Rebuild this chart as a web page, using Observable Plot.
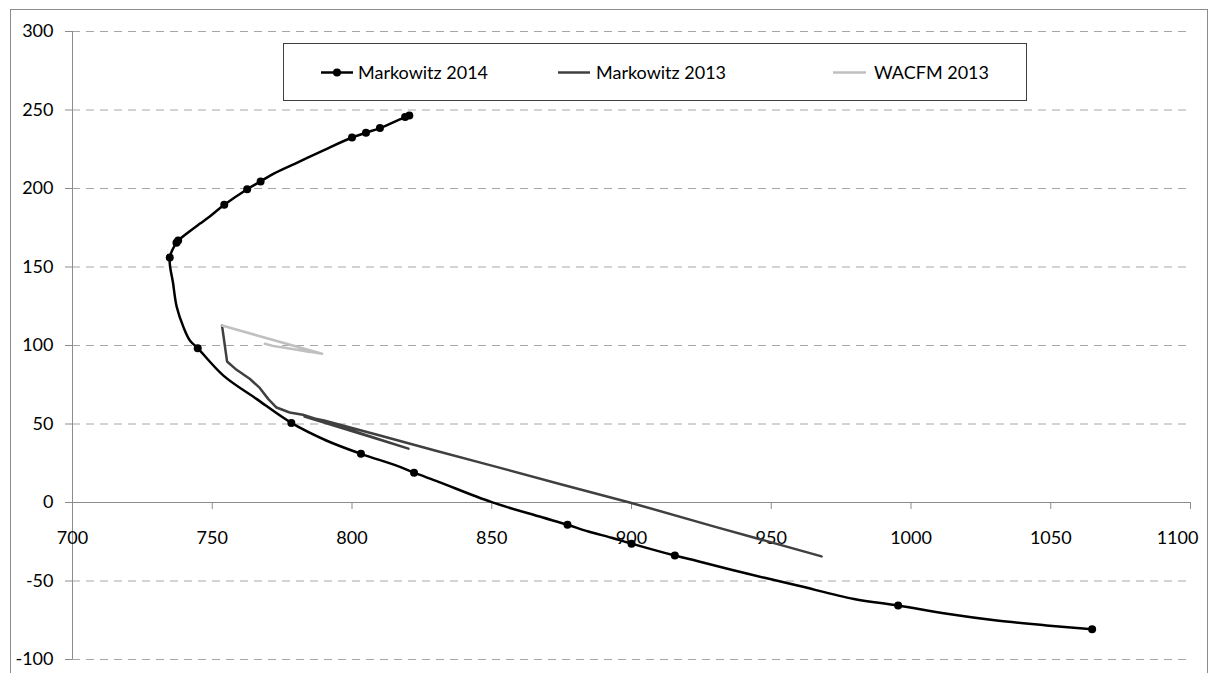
<!DOCTYPE html>
<html><head><meta charset="utf-8">
<script src="https://cdn.jsdelivr.net/npm/d3@7"></script>
<script src="https://cdn.jsdelivr.net/npm/@observablehq/plot@0.6"></script>
<style>
body{margin:0;background:#fff;}
#wrap{position:relative;width:1217px;height:673px;overflow:hidden;font-family:Lato,"Open Sans",sans-serif;}
#frame{position:absolute;left:10px;top:9px;width:1196px;height:680px;border:1px solid #8c8c8c;pointer-events:none;}
#legend{position:absolute;left:283px;top:43px;width:742px;height:56px;border:1px solid #404040;background:#fff;}
#legend svg{position:absolute;left:0;top:0;}
.lt{position:absolute;top:17px;font-size:18px;line-height:22px;color:#000;white-space:nowrap;}
</style></head>
<body>
<div id="wrap"><div id="chart"></div><div id="frame"></div>
<div id="legend">
<svg width="742" height="56">
<line x1="37" x2="69" y1="28.5" y2="28.5" stroke="#000" stroke-width="2.5"/>
<circle cx="53" cy="28.5" r="4" fill="#000"/>
<line x1="274" x2="306" y1="28.5" y2="28.5" stroke="#404040" stroke-width="2.5"/>
<line x1="549" x2="582" y1="28.5" y2="28.5" stroke="#c0c0c0" stroke-width="2.5"/>
</svg>
<div class="lt" style="left:74px">Markowitz 2014</div>
<div class="lt" style="left:312px">Markowitz 2013</div>
<div class="lt" style="left:590px">WACFM 2013</div>
</div>
</div>
<script>
const xTicks = [700, 750, 800, 850, 900, 950, 1000, 1050, 1100];
const yTicks = [-100, -50, 0, 50, 100, 150, 200, 250, 300];

// Markowitz 2014: [x, y, marker shown]
const markowitz2014 = [
  [820.5, 246.5, 1], [819, 245.5, 1], [810, 238.5, 1], [805, 235.5, 1], [800, 232.5, 1],
  [790, 224.5, 0], [781, 217, 0], [772, 209.5, 0], [767.3, 204.5, 1], [762.5, 199.5, 1],
  [754.3, 189.6, 1], [749, 182, 0], [745.5, 177.5, 0], [741, 171.5, 0], [737.8, 166.8, 1],
  [737.2, 165.5, 1], [734.8, 156, 1], [736, 139.5, 0], [737.3, 124.5, 0], [739.7, 111.7, 0],
  [742, 103.2, 0], [744.8, 98.3, 1], [753.9, 81, 0], [765.8, 66, 0], [778.3, 50.7, 1],
  [790.8, 39.5, 0], [803.2, 31, 1], [815.7, 23.6, 0], [822.2, 19, 1], [831.2, 13, 0],
  [850, 0.2, 0], [868, -9.4, 0], [877.1, -14.2, 1], [884.6, -18.5, 0], [892.9, -22.5, 0],
  [900, -26.2, 1], [915.5, -33.8, 1], [923.8, -37.4, 0], [941.6, -45.4, 0], [959.4, -52.9, 0],
  [979.6, -61.4, 0], [995.4, -65.6, 1], [1012.9, -70.9, 0], [1030.7, -75.2, 0], [1048.5, -78.3, 0],
  [1064.8, -80.8, 1]
];
const markowitz2013 = [
  [753.5, 112.7], [755.3, 89.8], [758.7, 84.5], [763.4, 78.8], [767, 73], [770, 66],
  [773, 60.5], [777.7, 57.3], [782.4, 55.9], [820.2, 34.3], [783, 54.8], [790, 52.2],
  [810, 42.7], [830, 33], [850, 23.5], [875, 11.5], [899, 0.2], [930, -15.5], [968, -34.3]
];
const wacfm2013 = [
  [753.5, 112.7], [789.3, 94.7], [781, 97.2], [785, 95.8], [776, 98.6], [772, 99.6], [768.8, 101.1]
];

const fmt = d => String(d);
const plot = Plot.plot({
  width: 1217, height: 673,
  marginLeft: 72, marginRight: 27, marginTop: 31, marginBottom: 14,
  x: {domain: [700, 1100], axis: null},
  y: {domain: [-100, 300]},
  style: {fontFamily: "Lato, 'Open Sans', sans-serif", fontSize: "18px", background: "transparent", color: "#000"},
  marks: [
    Plot.ruleY(yTicks.filter(d => d !== 0), {stroke: "#a6a6a6", strokeDasharray: "8,6", strokeWidth: 1}),
    Plot.ruleY([0], {stroke: "#8c8c8c", strokeWidth: 1}),
    Plot.ruleX([700], {stroke: "#8c8c8c", strokeWidth: 1}),
    Plot.axisY({ticks: yTicks, tickSize: 7, tickPadding: 12, tickFormat: fmt, stroke: "#8c8c8c", fill: "#000", fontSize: 18, label: null}),
    Plot.ruleX(xTicks, {x: d => d, y1: 0, y2: 0, insetBottom: -7, stroke: "#8c8c8c"}),
    Plot.text(xTicks.slice(0, -1), {x: d => d, y: 0, dy: 36, text: fmt, fontSize: 18, fill: "#000"}),
    Plot.text(xTicks.slice(-1), {x: d => d, y: 0, dy: 36, dx: -13, text: fmt, fontSize: 18, fill: "#000"}),
    Plot.line(markowitz2014, {x: d => d[0], y: d => d[1], stroke: "#000", strokeWidth: 2.5, curve: "catmull-rom"}),
    Plot.dot(markowitz2014.filter(d => d[2]), {x: d => d[0], y: d => d[1], r: 4, fill: "#000", stroke: "none"}),
    Plot.line(markowitz2013, {x: d => d[0], y: d => d[1], stroke: "#404040", strokeWidth: 2.5}),
    Plot.line(wacfm2013, {x: d => d[0], y: d => d[1], stroke: "#c0c0c0", strokeWidth: 2.5})
  ]
});
document.getElementById("chart").appendChild(plot);
</script>
</body></html>
